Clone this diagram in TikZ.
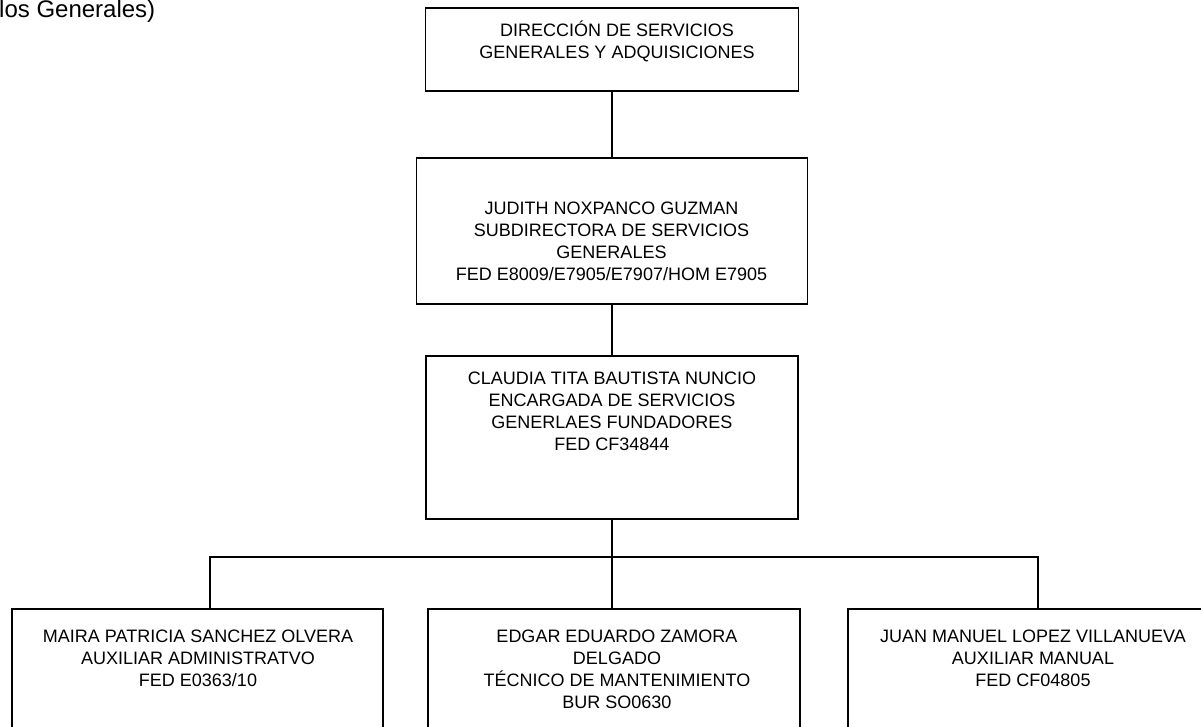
\documentclass[tikz,border=0pt]{standalone}
\usepackage{fontspec}
\setmainfont{Liberation Sans}
\usepackage{tikz}
\usetikzlibrary{positioning,calc}

\begin{document}
\begin{tikzpicture}[
  x=1pt,y=1pt,
  box/.style={draw,line width=1.2pt,minimum height=#1,inner sep=0pt},
  txt/.style={align=center,inner sep=0pt,anchor=north,font=\fontsize{18}{22}\selectfont},
  link/.style={line width=1.2pt},
]
\useasboundingbox (0,0) rectangle (1201,-727);
\clip (0,0) rectangle (1201,-727);
\node[anchor=base west,inner sep=0pt,font=\fontsize{24}{28}\selectfont] (title) at (-1,-18) {los Generales)};
% jefaturas
\node[box=83pt,minimum width=373pt] (dir) at (612,-49.5) {};
\node[box=146pt,minimum width=391pt] (sub) at (612,-231) {};
\node[box=163pt,minimum width=372pt] (enc) at (612,-437.5) {};
\node[txt] (dir-t) at (617,-21) {DIRECCIÓN DE SERVICIOS\\GENERALES Y ADQUISICIONES};
\node[txt] (sub-t) at (611.5,-202) {JUDITH NOXPANCO GUZMAN\\SUBDIRECTORA DE SERVICIOS\\GENERALES\\FED E8009/E7905/E7907/HOM E7905};
\node[txt] (enc-t) at (612,-372) {CLAUDIA TITA BAUTISTA NUNCIO\\ENCARGADA DE SERVICIOS\\GENERLAES FUNDADORES\\FED CF34844};
% personal
\node[box=131pt,minimum width=371pt] (aux1) at (197.5,-674.5) {};
\node[box=131pt,minimum width=372pt] (aux2) at (614,-674.5) {};
\node[box=131pt,minimum width=370pt] (aux3) at (1033,-674.5) {};
\node[txt] (aux1-t) at (198,-630) {MAIRA PATRICIA SANCHEZ OLVERA\\AUXILIAR ADMINISTRATVO\\FED E0363/10};
\node[txt] (aux2-t) at (617,-630) {EDGAR EDUARDO ZAMORA\\DELGADO\\TÉCNICO DE MANTENIMIENTO\\BUR SO0630};
\node[txt] (aux3-t) at (1033,-630) {JUAN MANUEL LOPEZ VILLANUEVA\\AUXILIAR MANUAL\\FED CF04805};
% lineas
\coordinate (busL) at (210,-557);
\coordinate (busM) at (612,-557);
\coordinate (busR) at (1038,-557);
\draw[link] (dir) -- (sub);
\draw[link] (sub) -- (enc);
\draw[link] (enc) -- (busM);
\draw[link] (busL |- aux1.north) -- (busL) -- (busR) -- (busR |- aux3.north);
\draw[link] (busM) -- (busM |- aux2.north);
\end{tikzpicture}
\end{document}
